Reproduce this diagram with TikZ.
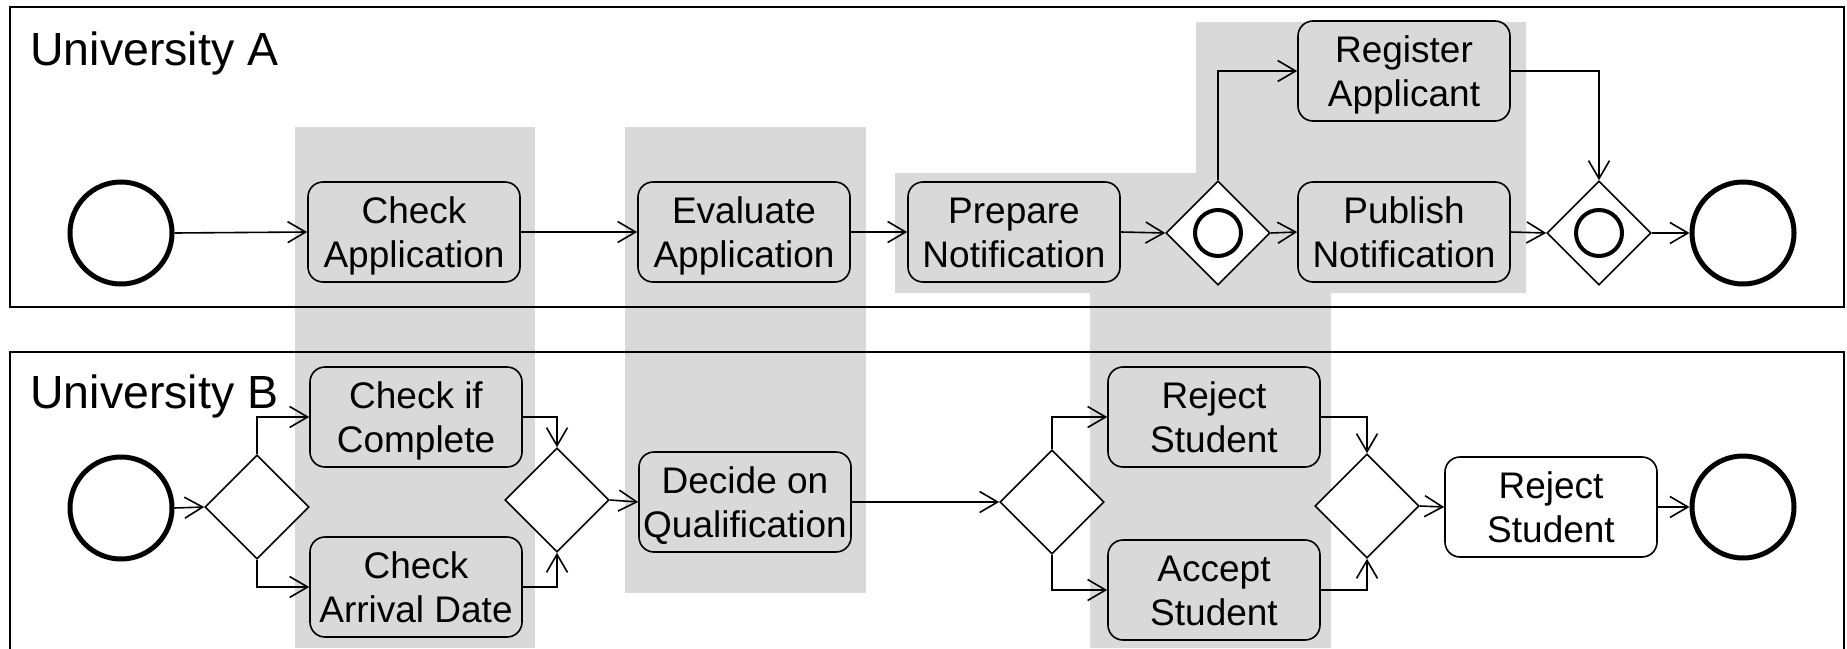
\documentclass[tikz,border=0pt]{standalone}
\usepackage{fontspec}
\setmainfont{Liberation Sans}
\usetikzlibrary{shapes.geometric,arrows.meta}
\definecolor{bandgray}{RGB}{217,217,217}
\newcommand{\twoline}[2]{\rule{0pt}{17pt}#1\\#2\rule[-4pt]{0pt}{4pt}}
\tikzset{
  task/.style={draw, rounded corners=7.5pt, fill=bandgray, minimum width=106pt, minimum height=50pt,
    inner sep=0pt, align=center, font=\fontsize{18.5pt}{22pt}\selectfont, line width=0.8pt},
  plaintask/.style={task, fill=white},
  event/.style={circle, draw, line width=2.5pt, minimum size=51pt, inner sep=0pt, fill=white},
  gateway/.style={diamond, draw, line width=0.8pt, minimum width=52pt, minimum height=52pt, inner sep=0pt, fill=white},
  gwmark/.style={circle, draw, line width=2pt, minimum size=23pt, inner sep=0pt},
  flow/.style={-{Straight Barb[length=9pt,width=10.5pt,line width=0.8pt]}, line width=0.8pt},
  pool/.style={line width=1pt},
  poollabel/.style={anchor=base west, inner sep=0pt, font=\fontsize{23.25pt}{28pt}\selectfont}
}
\begin{document}
\begin{tikzpicture}[x=0.5pt,y=-0.5pt]
\useasboundingbox (0,0) rectangle (1847,648);
% grey bands
\fill[bandgray] (295,127) rectangle (535,648);
\fill[bandgray] (625,127) rectangle (866,593);
\fill[bandgray] (895,173) -- (1196,173) -- (1196,22) -- (1526,22) -- (1526,293) -- (1331,293)
  -- (1331,648) -- (1090,648) -- (1090,293) -- (895,293) -- cycle;
% pools
\draw[pool] (10,7) rectangle (1844,307);
\draw[pool] (10,660) -- (10,352) -- (1844,352) -- (1844,660);
\node[poollabel] (labA) at (30,65) {University A};
\node[poollabel] (labB) at (30,408) {University B};
% pool A
\node[event] (startA) at (121,233) {};
\node[task] (checkApp) at (414,232) {\twoline{Check}{Application}};
\node[task] (evalApp) at (744,232) {\twoline{Evaluate}{Application}};
\node[task] (prepNot) at (1014,232) {\twoline{Prepare}{Notification}};
\node[gateway] (gwA1) at (1218,233) {};
\node[gwmark] (gwA1m) at (1218,233) {};
\node[task] (regApp) at (1404,71) {\twoline{Register}{Applicant}};
\node[task] (pubNot) at (1404,232) {\twoline{Publish}{Notification}};
\node[gateway] (gwA2) at (1599,233) {};
\node[gwmark] (gwA2m) at (1599,233) {};
\node[event] (endA) at (1743,233) {};
\draw[flow] (startA.east) -- (checkApp.west);
\draw[flow] (checkApp.east) -- (evalApp.west);
\draw[flow] (evalApp.east) -- (prepNot.west);
\draw[flow] (prepNot.east) -- (gwA1.west);
\draw[flow] (gwA1.north) |- (regApp.west);
\draw[flow] (gwA1.east) -- (pubNot.west);
\draw[flow] (regApp.east) -| (gwA2.north);
\draw[flow] (pubNot.east) -- (gwA2.west);
\draw[flow] (gwA2.east) -- (endA.west);
% pool B
\node[event] (startB) at (121,508) {};
\node[gateway] (gwB1) at (257,507) {};
\node[task] (checkComp) at (416,417) {\twoline{Check if}{Complete}};
\node[task] (checkArr) at (416,587) {\twoline{Check}{Arrival Date}};
\node[gateway] (gwB2) at (557,500) {};
\node[task] (decide) at (745,502) {\twoline{Decide on}{Qualification}};
\node[gateway] (gwB3) at (1052,502) {};
\node[task] (rejB) at (1214,417) {\twoline{Reject}{Student}};
\node[task] (accB) at (1214,590) {\twoline{Accept}{Student}};
\node[gateway] (gwB4) at (1367,506) {};
\node[plaintask] (rejFinal) at (1551,507) {\twoline{Reject}{Student}};
\node[event] (endB) at (1743,507) {};
\draw[flow] (startB.east) -- (gwB1.west);
\draw[flow] (gwB1.north) |- (checkComp.west);
\draw[flow] (gwB1.south) |- (checkArr.west);
\draw[flow] (checkComp.east) -| (gwB2.north);
\draw[flow] (checkArr.east) -| (gwB2.south);
\draw[flow] (gwB2.east) -- (decide.west);
\draw[flow] (decide.east) -- (gwB3.west);
\draw[flow] (gwB3.north) |- (rejB.west);
\draw[flow] (gwB3.south) |- (accB.west);
\draw[flow] (rejB.east) -| (gwB4.north);
\draw[flow] (accB.east) -| (gwB4.south);
\draw[flow] (gwB4.east) -- (rejFinal.west);
\draw[flow] (rejFinal.east) -- (endB.west);
\end{tikzpicture}
\end{document}
